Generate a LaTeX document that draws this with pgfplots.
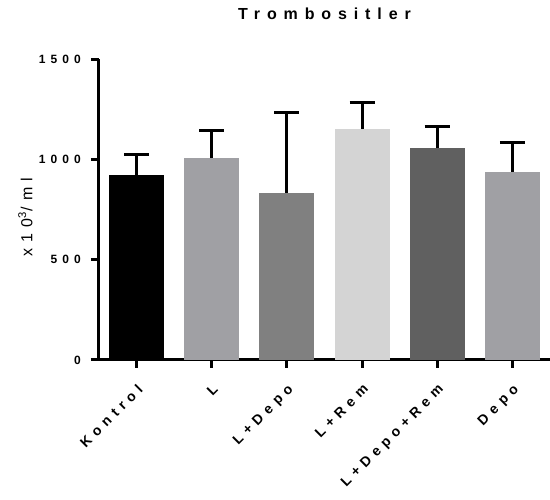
\documentclass[border=0pt]{standalone}
\usepackage{fontspec}
\setmainfont{Liberation Sans}
\newfontfamily\gpy[LetterSpace=42]{Liberation Sans}
\newfontfamily\gpx[LetterSpace=38]{Liberation Sans}
\newfontfamily\gpt[LetterSpace=43]{Liberation Sans}
\newfontfamily\gpl[LetterSpace=40]{Liberation Sans}
\usepackage{pgfplots}
\pgfplotsset{compat=1.18}
\definecolor{cK}{HTML}{000000}
\definecolor{cL}{HTML}{A0A0A4}
\definecolor{cLD}{HTML}{808080}
\definecolor{cLR}{HTML}{D4D4D4}
\definecolor{cLDR}{HTML}{606060}
\definecolor{cD}{HTML}{A0A0A4}
\begin{document}
\begin{tikzpicture}
\useasboundingbox (-99pt,-140pt) rectangle (451pt,360pt);
\begin{axis}[
  at={(0pt,0pt)}, anchor=south west,
  scale only axis, width=451pt, height=300.5pt,
  xmin=-0.5, xmax=5.5, ymin=0, ymax=1500,
  axis x line*=bottom, axis y line*=left,
  axis line style={line width=3pt, -},
  ybar, bar width=55pt, bar shift=0pt,
  xtick={0,1,2,3,4,5},
  xticklabels={Kontrol, L, L+Depo, L+Rem, L+Depo+Rem, Depo},
  ytick={0,500,1000,1500},
  tick align=outside, major tick length=8pt,
  tick style={line width=3pt, black},
  /pgf/number format/assume math mode=true,
  /pgf/number format/1000 sep={},
  yticklabel style={font=\gpy\bfseries\fontsize{12}{14}\selectfont, anchor=east, inner sep=0pt, xshift=-10pt},
  xticklabel style={font=\gpx\bfseries\fontsize{14}{16}\selectfont, rotate=45, anchor=north east, inner sep=0pt},
  xticklabel shift=15pt,
  title={\gpt\bfseries\fontsize{16}{18}\selectfont Trombositler},
  title style={at={(axis description cs:0.5,1)}, anchor=base, yshift=34pt, inner sep=0pt},
  ylabel={\gpl\fontsize{16}{18}\selectfont x10\textsuperscript{3}/ml},
  ylabel style={at={(axis description cs:-0.147,0.475)}, anchor=south, inner sep=0pt},
  error bars/y dir=plus, error bars/y explicit,
  error bars/error mark=|,
  error bars/error bar style={line width=3pt, black},
  error bars/error mark options={line width=3pt, black, mark size=12.5pt},
]
\addplot[fill=cK, draw=none] coordinates {(0,922) +- (0,106)};
\addplot[fill=cL, draw=none] coordinates {(1,1008) +- (0,136)};
\addplot[fill=cLD, draw=none] coordinates {(2,836) +- (0,397)};
\addplot[fill=cLR, draw=none] coordinates {(3,1153) +- (0,131)};
\addplot[fill=cLDR, draw=none] coordinates {(4,1060) +- (0,107)};
\addplot[fill=cD, draw=none] coordinates {(5,939) +- (0,146)};
\end{axis}
\end{tikzpicture}
\end{document}
